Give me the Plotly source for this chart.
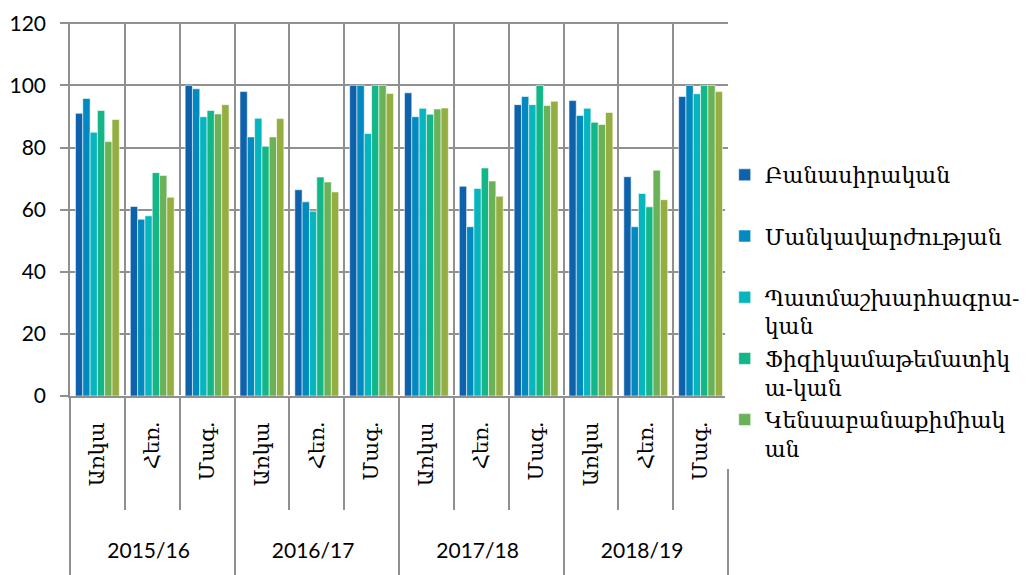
import plotly.graph_objects as go

years = ["2015/16", "2016/17", "2017/18", "2018/19"]
modes = ["Առկա", "Հեռ.", "Մագ."]

series_names = [
    "Բանասիրական<br> ",
    "Մանկավարժության<br> ",
    "Պատմաշխարհագրա-<br>կան",
    "Ֆիզիկամաթեմատիկ<br>ա-կան",
    "Կենսաբանաքիմիակ<br>ան",
    "Այլ",
]

# values per series, order: year x mode
banasirakan = [91, 61, 100, 98, 66.4, 100, 97.6, 67.5, 93.8, 95.1, 70.6, 96.4]
mankavarzh = [95.8, 56.9, 98.9, 83.4, 62.5, 100, 89.9, 54.5, 96.4, 90.3, 54.5, 100]
patmashkh = [84.9, 58, 89.9, 89.4, 59.5, 84.5, 92.6, 66.8, 93.8, 92.6, 65.2, 97.3]
fizmat = [91.9, 71.9, 91.9, 80.4, 70.5, 100, 90.7, 73.4, 100, 88.1, 60.9, 100]
kensabqim = [81.9, 71, 90.8, 83.4, 68.9, 100, 92.4, 69.2, 93.5, 87.4, 72.7, 100]
sixth = [89, 64, 93.8, 89.3, 65.7, 97.4, 92.7, 64.3, 94.9, 91.3, 63.2, 98]

colors = ["#0E62AC", "#0289BF", "#07B5BF", "#13B787", "#6AB257", "#95AE42"]

all_series = [banasirakan, mankavarzh, patmashkh, fizmat, kensabqim, sixth]

NB = "\u00a0"
xl0 = [y + "<br> <br> " for y in years for _ in modes]
xl1 = [NB * 6 + m + NB * 3 for _ in years for m in modes]

fig = go.Figure()
for i, (name, vals) in enumerate(zip(series_names, all_series)):
    fig.add_trace(go.Bar(
        x=[xl0, xl1], y=vals, name=name,
        marker=dict(color=colors[i], line=dict(color="rgba(255,255,255,0.7)", width=0.8)),
        showlegend=(i < 5), legendgroup=f"g{i}",
    ))

fig.update_layout(
    width=1025, height=567,
    margin=dict(l=62, r=305, t=14, b=179, autoexpand=False),
    plot_bgcolor="white", paper_bgcolor="white",
    barmode="group", bargap=0.2, bargroupgap=0,
    font=dict(family="Lato, DejaVu Serif", size=20, color="black"),
    legend=dict(x=0.995, y=0.647, yanchor="top", xanchor="left",
                font=dict(family="DejaVu Serif", size=22), valign="top",
                tracegroupgap=1),
)
fig.update_yaxes(
    range=[0, 120.4], dtick=20,
    showgrid=True, gridcolor="#909090", gridwidth=1.5,
    showline=True, linecolor="#909090", linewidth=1.5, automargin=False,
    ticks="outside", ticklen=8, tickcolor="#909090", tickwidth=1.5,
    tickfont=dict(family="Lato", size=21), ticklabelstandoff=10,
    ticklabeloverflow="allow",
)
fig.update_xaxes(
    type="multicategory", tickson="boundaries", showgrid=True, gridcolor="#909090", gridwidth=1.5,
    showline=True, linecolor="#909090", linewidth=1.5, automargin=False,
    ticks="outside", ticklen=112, tickcolor="#909090", tickwidth=1.5,
    tickangle=-90, showdividers=True, dividercolor="#909090", dividerwidth=1.5,
    tickfont=dict(family="Lato, DejaVu Serif", size=21),
)
fig.write_html("out.html")
